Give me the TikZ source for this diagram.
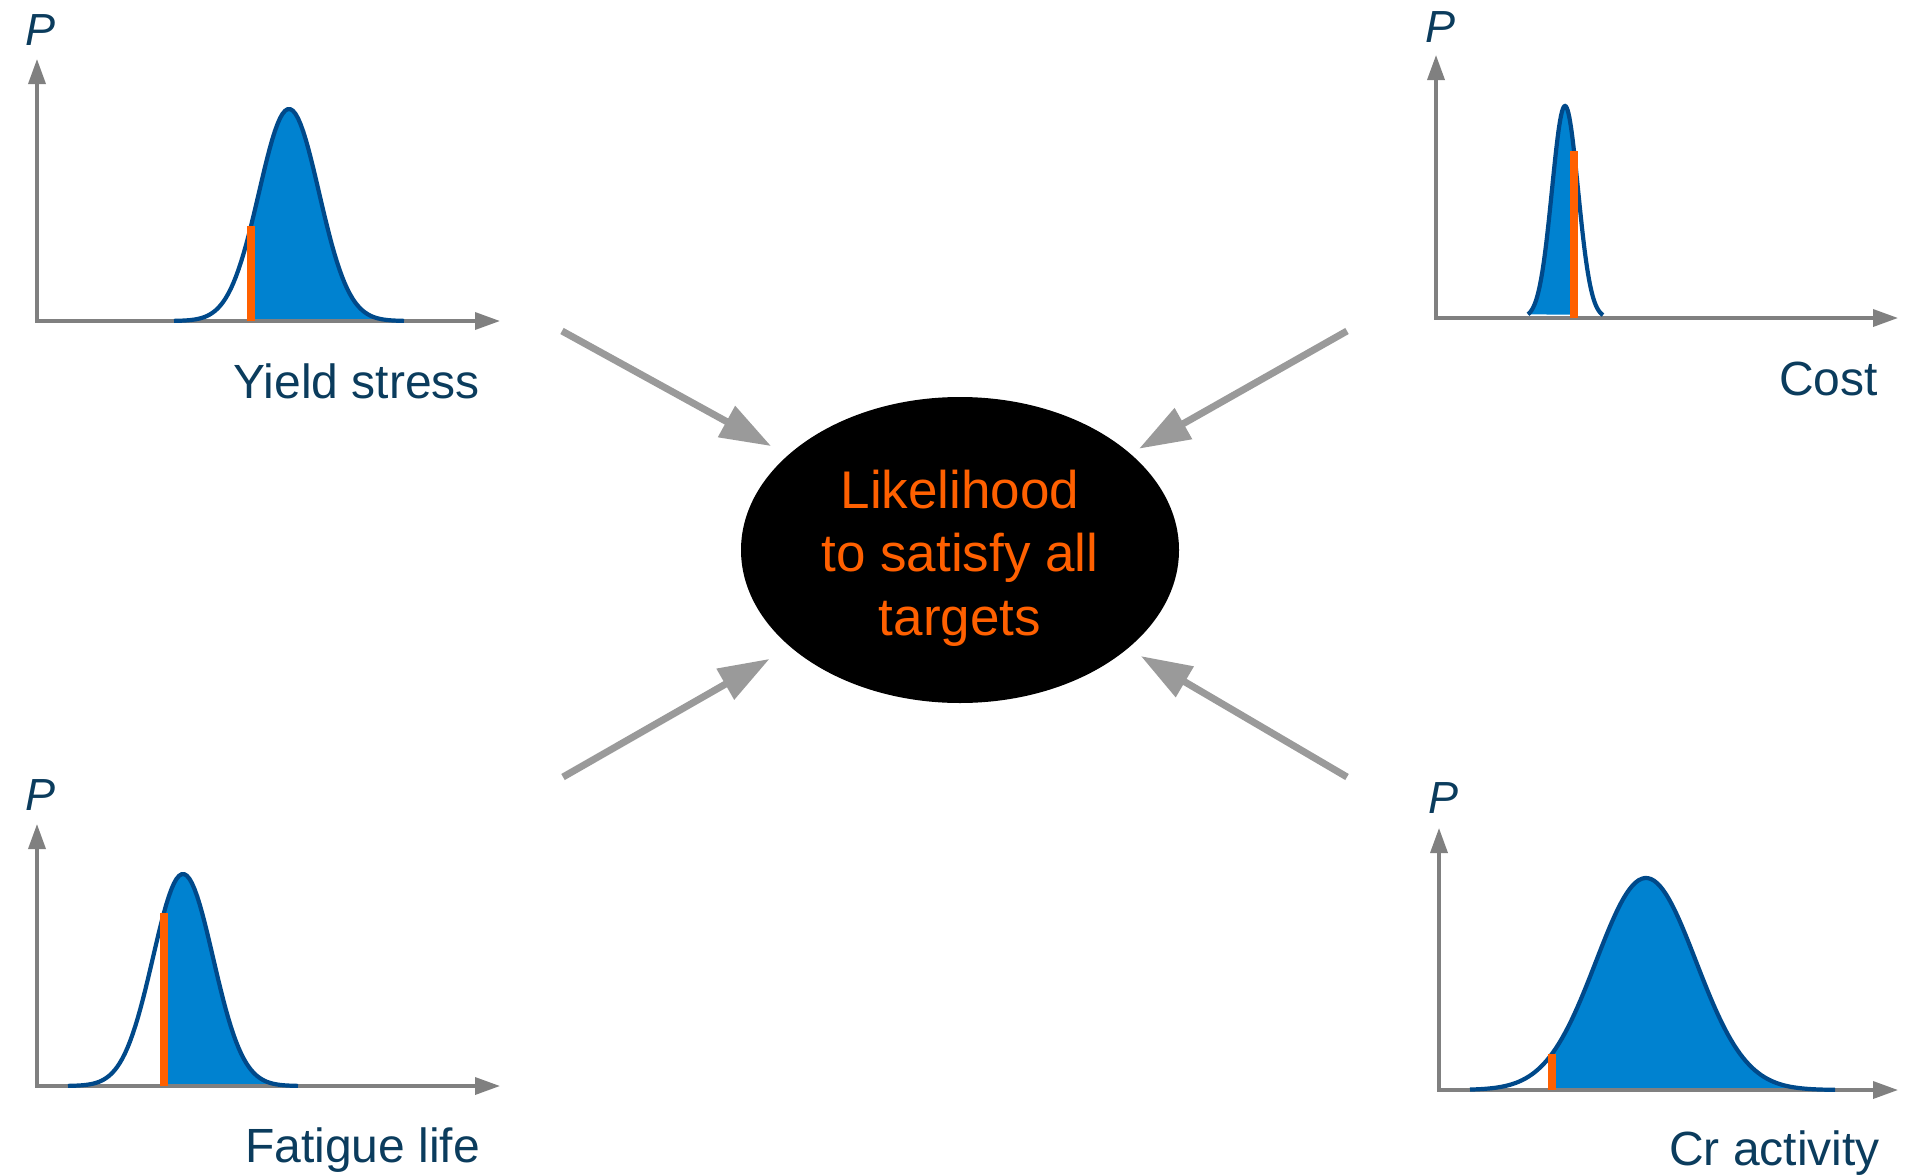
\documentclass[tikz,border=0pt]{standalone}
\usepackage{fontspec}
\setmainfont{Liberation Sans}
\usepackage{tikz}
\usetikzlibrary{shapes.geometric, arrows.meta, positioning}
\definecolor{plotNavy}{HTML}{0B3C5D}
\definecolor{curveBlue}{HTML}{00498A}
\definecolor{fillBlue}{HTML}{0082D0}
\definecolor{limitOrange}{HTML}{FF6000}
\definecolor{axisGray}{HTML}{808080}
\definecolor{arrowGray}{HTML}{9A9A9A}
% bell curve: x, mean, spread, baseline
\newcommand{\bell}[4]{#4-212*exp(-0.5*((#1-#2)/#3)^2)}

\tikzset{
  probAxis/.style={axisGray, line width=3.5pt,
    {Triangle[length=25pt, width=17pt]}-{Triangle[length=25pt, width=17pt]}},
  probCurve/.style={curveBlue, line width=4.2pt},
  cutLine/.style={limitOrange, line width=7.5pt},
  feedArrow/.style={arrowGray, line width=7pt, -{Triangle[length=51pt, width=34pt]}},
  pLabel/.style={font=\fontsize{45}{54}\selectfont\itshape, text=plotNavy, inner sep=0pt, anchor=base},
  qtyLabel/.style={font=\fontsize{48}{58}\selectfont, text=plotNavy, inner sep=0pt, anchor=base east},
}

\begin{document}
\begin{tikzpicture}[x=1pt, y=-1pt]
    \useasboundingbox (0,0) rectangle (1905,1175);

    % Yield stress
    \coordinate (ys0) at (37,321);
    \begin{scope}
        \clip (251,321) rectangle (404,100);
        \fill[fillBlue] plot[domain=174:404, samples=90] (\x, {\bell{\x}{289}{30}{321}}) -- cycle;
    \end{scope}
    \draw[probAxis] (37,59) -- (ys0) -- (500,321);
    \draw[probCurve] plot[domain=174:404, samples=90] (\x, {\bell{\x}{289}{30}{321}});
    \draw[cutLine] (251,321) -- (251,{\bell{251}{289}{30}{321}});
    \node[pLabel] (ysP) at (41,45) {P};
    \node[qtyLabel] (ysName) at (480,398) {Yield stress};

    % Cost
    \coordinate (cost0) at (1436,318);
    \begin{scope}
        \clip (1528,318) rectangle (1574,100);
        \fill[fillBlue] plot[domain=1528:1603, samples=90] (\x, {\bell{\x}{1565}{13}{318}}) -- cycle;
    \end{scope}
    \draw[probAxis] (1436,55) -- (cost0) -- (1898,318);
    \draw[probCurve] plot[domain=1528:1603, samples=90] (\x, {\bell{\x}{1565}{13}{318}});
    \draw[cutLine] (1574,318) -- (1574,{\bell{1574}{1565}{13}{318}});
    \node[pLabel] (costP) at (1440,42) {P};
    \node[qtyLabel] (costName) at (1878,395) {Cost};

    % Fatigue life
    \coordinate (fat0) at (37,1086);
    \begin{scope}
        \clip (164,1086) rectangle (298,860);
        \fill[fillBlue] plot[domain=68:298, samples=90] (\x, {\bell{\x}{183}{30}{1086}}) -- cycle;
    \end{scope}
    \draw[probAxis] (37,824) -- (fat0) -- (500,1086);
    \draw[probCurve] plot[domain=68:298, samples=90] (\x, {\bell{\x}{183}{30}{1086}});
    \draw[cutLine] (164,1086) -- (164,{\bell{164}{183}{30}{1086}});
    \node[pLabel] (fatP) at (41,810) {P};
    \node[qtyLabel] (fatName) at (480,1162) {Fatigue life};

    % Cr activity
    \coordinate (cr0) at (1439,1090);
    \begin{scope}
        \clip (1552,1090) rectangle (1835,870);
        \fill[fillBlue] plot[domain=1470:1835, samples=120] (\x, {\bell{\x}{1646}{50}{1090}}) -- cycle;
    \end{scope}
    \draw[probAxis] (1439,828) -- (cr0) -- (1898,1090);
    \draw[probCurve] plot[domain=1470:1835, samples=120] (\x, {\bell{\x}{1646}{50}{1090}});
    \draw[cutLine] (1552,1090) -- (1552,{\bell{1552}{1646}{50}{1090}});
    \node[pLabel] (crP) at (1443,813) {P};
    \node[qtyLabel] (crName) at (1880,1165) {Cr activity};

    % combined likelihood
    \node[ellipse, fill=black, minimum width=438pt, minimum height=306pt, inner sep=0pt,
          align=center, text=limitOrange, font=\fontsize{53}{63.5}\selectfont]
          (likely) at (960,550) {\rule{0pt}{54pt}Likelihood\\to satisfy all\\targets};

    \coordinate (ysFrom) at (562,331);
    \coordinate (costFrom) at (1347,331);
    \coordinate (fatFrom) at (563,777);
    \coordinate (crFrom) at (1347,777);
    \draw[feedArrow, shorten >=19pt] (ysFrom) -- (likely);
    \draw[feedArrow, shorten >=10pt] (costFrom) -- (likely);
    \draw[feedArrow, shorten >=24pt] (fatFrom) -- (likely);
    \draw[feedArrow, shorten >=15pt] (crFrom) -- (likely);
\end{tikzpicture}
\end{document}
